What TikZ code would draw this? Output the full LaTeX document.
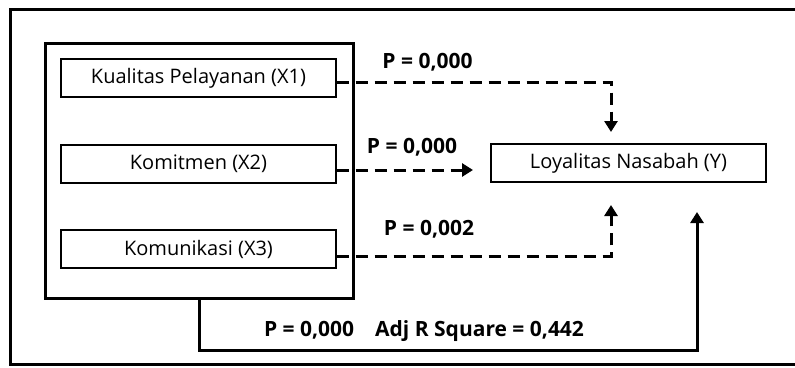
\documentclass[tikz,border=0pt]{standalone}
\usepackage{fontspec}
\setmainfont{Open Sans}
\usetikzlibrary{arrows.meta}
\begin{document}
\begin{tikzpicture}[x=1pt,y=-1pt,
  box/.style={draw, line width=1.4pt, minimum width=275pt, minimum height=38pt, inner sep=0pt, font=\fontsize{20}{24}\selectfont},
  grpbox/.style={draw, line width=3pt, minimum width=308pt, minimum height=255pt, inner sep=0pt},
  dline/.style={line width=3pt, dash pattern=on 12pt off 7pt, -{Triangle[width=13pt,length=11pt]}},
  sline/.style={line width=3pt, -{Triangle[width=13pt,length=11pt]}},
  lbl/.style={font=\bfseries\fontsize{21}{24}\selectfont, inner sep=0pt}]
\useasboundingbox (0,0) rectangle (795,367);
\draw[line width=3pt] (10,9) rectangle (805,364);
\node[grpbox] (grp) at (199,170.5) {};
\node[box] (x1) at (198.5,78) {Kualitas Pelayanan (X1)};
\node[box] (x2) at (198.5,164) {Komitmen (X2)};
\node[box] (x3) at (198.5,249) {Komunikasi (X3)};
\node[box] (y) at (628.5,163) {Loyalitas Nasabah (Y)};
\coordinate (t1) at (611,132);
\coordinate (t2) at (473,170);
\coordinate (t3) at (611,205);
\coordinate (t4) at (697,212);
\draw[dline] ([yshift=-4pt]x1.east) -| (t1);
\draw[dline] ([yshift=-6pt]x2.east) -- (t2);
\draw[dline] ([yshift=-7pt]x3.east) -| (t3);
\draw[sline] (grp.south) -- ++(0,51) -| (t4);
\node[lbl] (l1) at (427.5,62) {P = 0,000};
\node[lbl] (l2) at (412,147) {P = 0,000};
\node[lbl] (l3) at (429,229) {P = 0,002};
\node[lbl] (l4) at (424,331) {P = 0,000\hspace{1em}Adj R Square = 0,442};
\end{tikzpicture}
\end{document}
